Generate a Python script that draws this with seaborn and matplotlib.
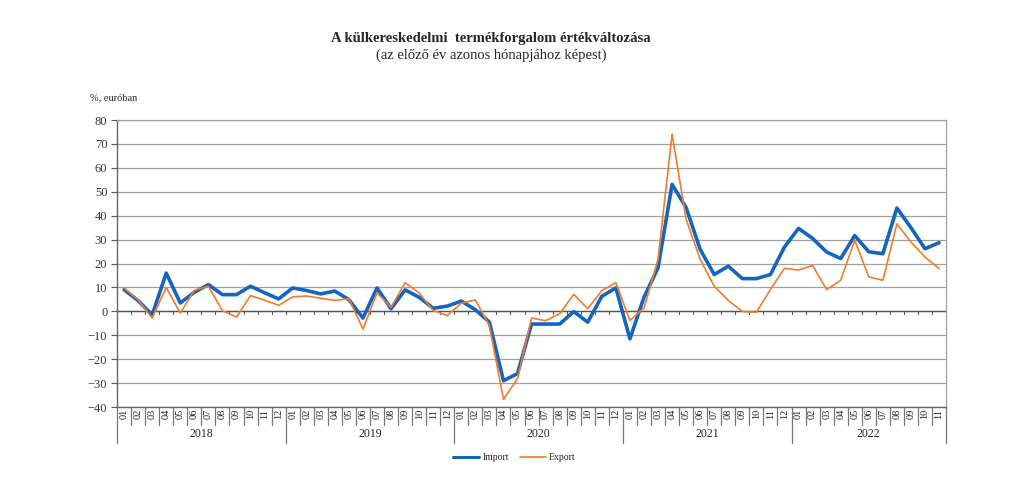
import matplotlib.pyplot as plt
import matplotlib.transforms as mtransforms
import seaborn as sns
import pandas as pd

years = ["2018", "2019", "2020", "2021", "2022"]
months = ["01", "02", "03", "04", "05", "06", "07", "08", "09", "10", "11", "12"]

imp = [9.1, 4.5, -1.5, 16.0, 3.5, 8.0, 11.2, 7.0, 7.0, 10.5, 7.8, 5.2,
       9.8, 8.7, 7.3, 8.5, 4.9, -2.8, 9.8, 1.1, 9.0, 5.9, 1.3, 2.2,
       4.3, 0.7, -4.5, -29.0, -26.0, -5.3, -5.3, -5.3, -0.1, -4.5, 6.3, 9.8,
       -11.5, 5.9, 18.2, 53.1, 43.4, 25.9, 15.4, 18.9, 13.7, 13.7, 15.4, 26.9,
       34.7, 30.5, 24.8, 22.1, 31.7, 24.9, 24.1, 43.2, 35.0, 26.2, 28.7]
exp = [9.8, 4.8, -2.8, 10.0, -0.7, 8.8, 10.5, 0.3, -2.4, 6.6, 4.7, 2.5,
       6.1, 6.4, 5.5, 4.6, 5.3, -7.4, 7.8, 1.7, 12.0, 7.7, 0.3, -1.7,
       3.4, 4.8, -6.0, -36.8, -28.1, -2.8, -3.9, -1.0, 7.1, 1.1, 8.7, 12.0,
       -3.8, 1.4, 21.7, 74.1, 38.5, 21.7, 10.5, 4.6, 0.0, -0.4, 9.1, 18.0,
       17.3, 19.2, 9.1, 13.0, 29.7, 14.4, 13.0, 36.6, 29.0, 22.7, 17.9]

n = len(imp)
labels = [(y, m) for y in years for m in months][:n]

df = pd.DataFrame({
    "idx": list(range(n)) * 2,
    "value": imp + exp,
    "series": ["Import"] * n + ["Export"] * n,
})

blue = "#1565C0"
orange = "#F47B2A"

sns.set_style("white")
plt.rcParams["font.family"] = ["Liberation Serif", "DejaVu Serif"]

fig = plt.figure(figsize=(10.24, 4.84), dpi=100)
ax = fig.add_axes([0.1143, 0.159, 0.8096, 0.593])

sns.lineplot(data=df, x="idx", y="value", hue="series", size="series",
             sizes={"Import": 2.6, "Export": 1.2},
             palette={"Import": blue, "Export": orange},
             ax=ax, legend=False, zorder=3)

ax.set_xlim(-0.5, n - 0.5)
ax.set_ylim(-40, 80)
ax.set_yticks(range(-40, 81, 10))
ax.set_yticklabels([str(v).replace("-", "\u2212") for v in range(-40, 81, 10)],
                   fontsize=9, color="#333333")
ax.yaxis.grid(True, color="#a0a0a0", linewidth=0.9)
ax.set_xticks([])
ax.set_xlabel("")
ax.set_ylabel("")
ax.tick_params(axis="y", length=4, width=0.8, color="#555555", pad=3, left=True)

for s in ["top", "right"]:
    ax.spines[s].set_color("#a0a0a0")
    ax.spines[s].set_linewidth(0.9)
for s in ["left", "bottom"]:
    ax.spines[s].set_color("#666666")
    ax.spines[s].set_linewidth(1.0)

# zero line with small ticks
ax.axhline(0, color="#555555", linewidth=1.0, zorder=2)
for i in range(n + 1):
    ax.plot([i - 0.5, i - 0.5], [0, -1.3], color="#555555", linewidth=0.8, zorder=2)

# category axis: months and years
trans = mtransforms.blended_transform_factory(ax.transData, ax.transAxes)
month_sep = -0.063
year_sep = -0.127
for i, (y, m) in enumerate(labels):
    ax.text(i, -0.006, m, transform=trans, rotation=90, ha="center", va="top",
            fontsize=7.5, color="#222222")
for i in range(n + 1):
    is_year = (i % 12 == 0) or i == n
    ax.plot([i - 0.5, i - 0.5], [0, year_sep if is_year else month_sep],
            transform=trans, color="#777777", linewidth=0.9, clip_on=False)
for k, y in enumerate(years):
    start = k * 12
    end = min(start + 12, n)
    ax.text((start + end - 1) / 2, -0.095, y, transform=trans, ha="center",
            va="center", fontsize=8.5, color="#222222")

# legend
lx = fig.transFigure
ly = 0.055
fig.lines.append(plt.Line2D([0.442, 0.468], [ly, ly], transform=lx,
                            color=blue, linewidth=2.2))
fig.text(0.471, ly, "Import", fontsize=7, va="center", color="#222222")
fig.lines.append(plt.Line2D([0.508, 0.533], [ly, ly], transform=lx,
                            color=orange, linewidth=1.2))
fig.text(0.536, ly, "Export", fontsize=7, va="center", color="#222222")

fig.text(0.479, 0.921, "A külkereskedelmi  termékforgalom értékváltozása",
         ha="center", va="center", fontsize=10.5, fontweight="bold")
fig.text(0.480, 0.886, "(az előző év azonos hónapjához képest)",
         ha="center", va="center", fontsize=10.5)
fig.text(0.088, 0.799, "%, euróban", fontsize=7.5, va="center")

fig.savefig("out.png", dpi=100)
